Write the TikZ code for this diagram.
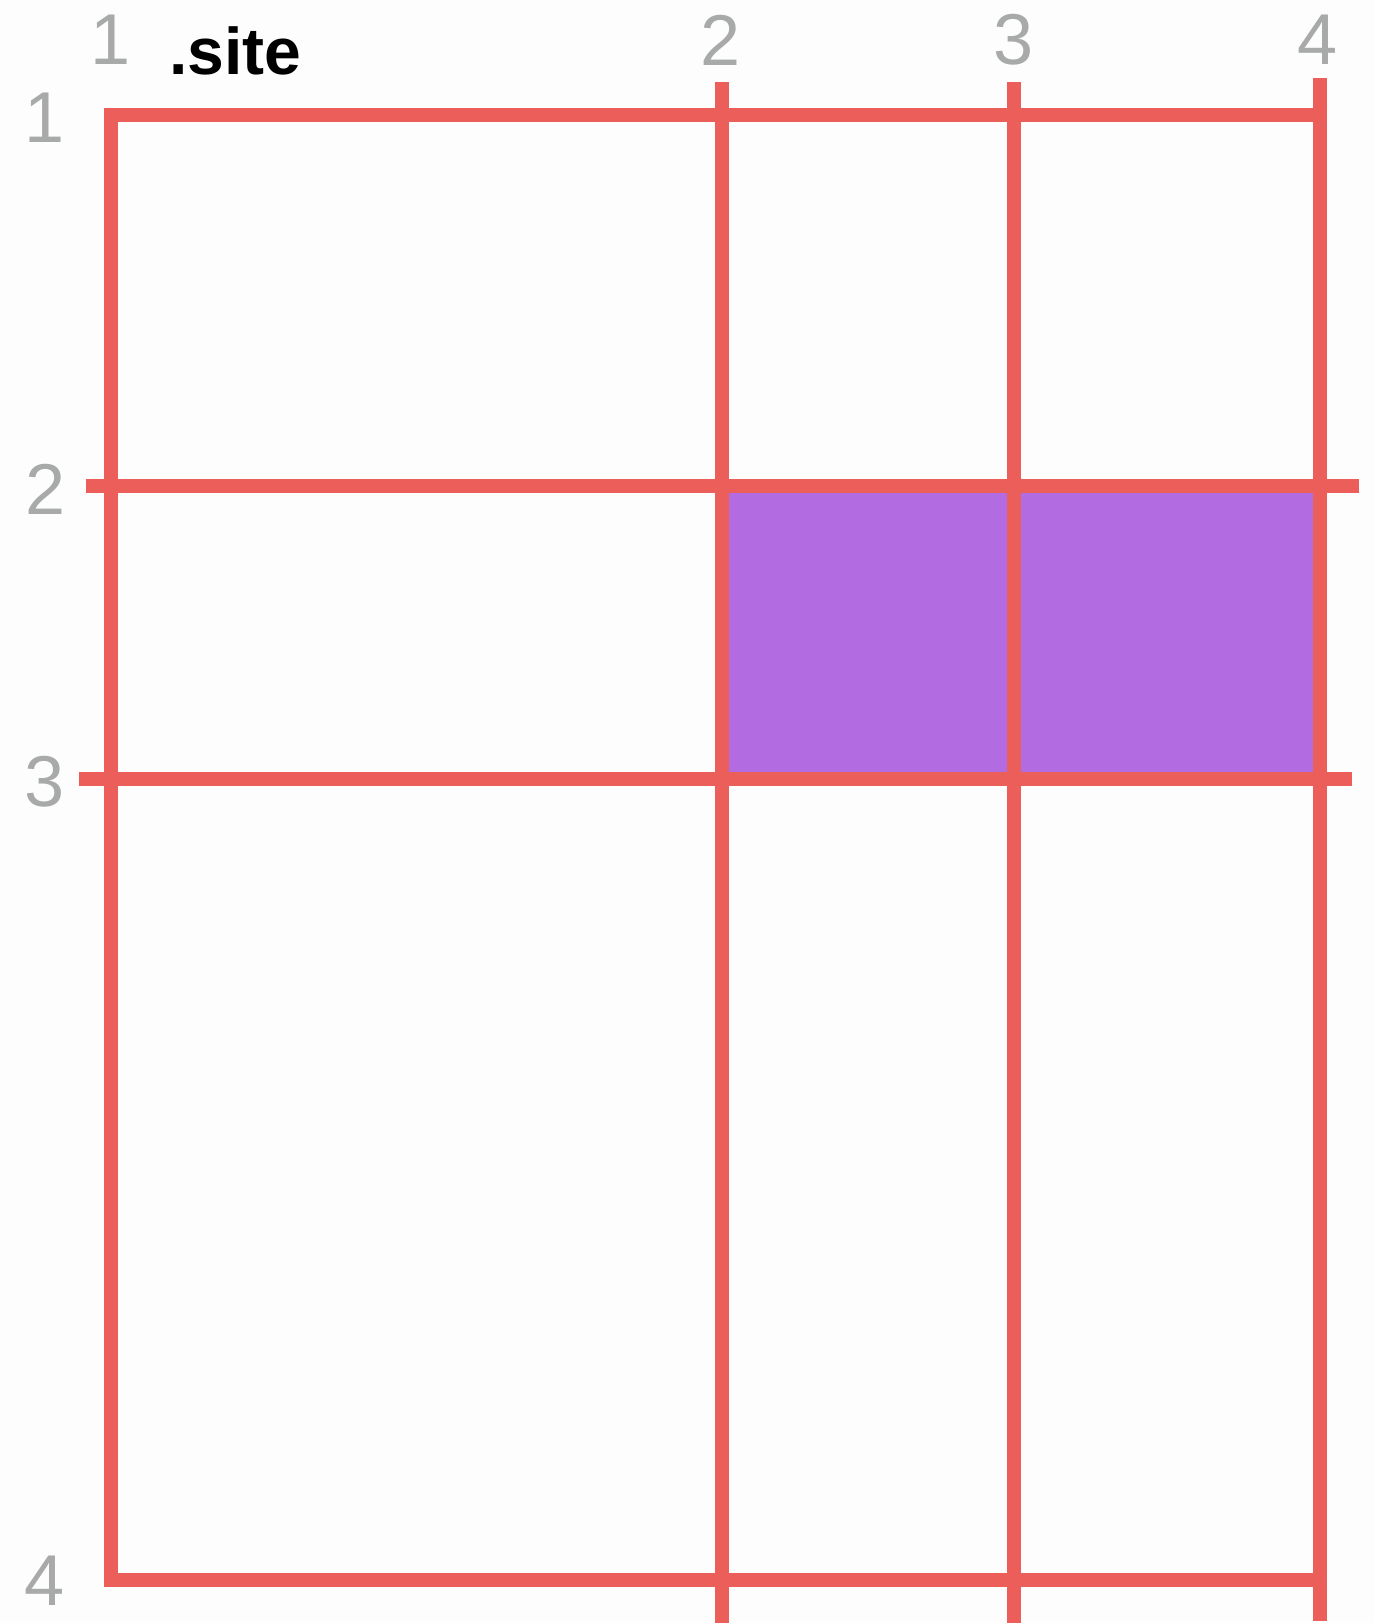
\documentclass[tikz,border=0pt]{standalone}
\usepackage{fontspec}
\setmainfont{Liberation Sans}
\usepackage{tikz}
\usetikzlibrary{positioning}
\definecolor{GridRed}{RGB}{236,94,90}
\definecolor{AreaPurple}{RGB}{179,107,225}
\definecolor{NumGray}{RGB}{167,170,168}
\definecolor{PageWhite}{RGB}{253,253,253}
\tikzset{
  gridline/.style={draw=GridRed, line width=13.5pt},
  linenum/.style={text=NumGray, inner sep=0pt,
                  font=\fontsize{72}{72}\selectfont},
  sitelabel/.style={inner sep=0pt, anchor=base west,
                    font=\fontsize{66}{66}\selectfont\bfseries}
}

\begin{document}
\begin{tikzpicture}[x=1pt,y=-1pt]
\fill[PageWhite] (0,0) rectangle (1374,1623);
\useasboundingbox (0,0) rectangle (1374,1623);

% placed item
\fill[AreaPurple] (722,486) rectangle (1320,779);

% outer box of the grid
\draw[gridline] (1320,115) -- (111,115) -- (111,1580) -- (1320,1580);

% column lines
\draw[gridline] (722,82) -- (722,1623);
\draw[gridline] (1014,82) -- (1014,1623);
\draw[gridline] (1320,78) -- (1320,1621);

% row lines
\draw[gridline] (86,486) -- (1359,486);
\draw[gridline] (79,779) -- (1352,779);

% line numbers
\node[linenum] (col1) at (111,40) {1};
\node[linenum] (col2) at (721,40) {2};
\node[linenum] (col3) at (1014,40) {3};
\node[linenum] (col4) at (1318,40) {4};

\node[linenum] (row1) at (45,118) {1};
\node[linenum] (row2) at (46,489) {2};
\node[linenum] (row3) at (45,782) {3};
\node[linenum] (row4) at (45,1581) {4};

\node[sitelabel] (site) at (169,74) {.site};
\end{tikzpicture}
\end{document}
